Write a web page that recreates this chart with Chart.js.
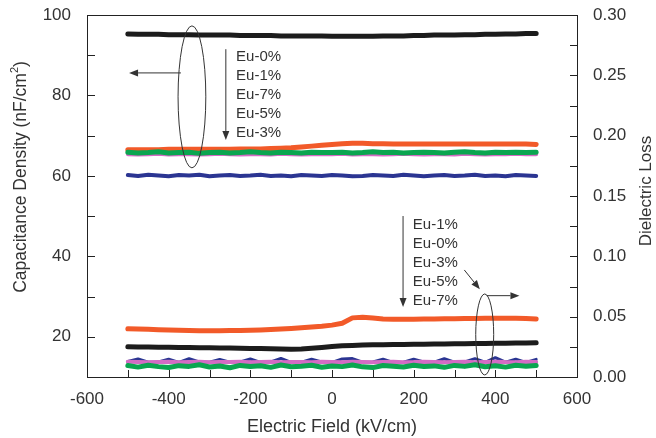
<!DOCTYPE html>
<html>
<head>
<meta charset="utf-8">
<script src="https://cdn.jsdelivr.net/npm/chart.js@4.4.0/dist/chart.umd.min.js"></script>
<style>
  body { margin: 0; background: #fff; }
  #wrap { width: 656px; height: 438px; }
</style>
</head>
<body>
<div id="wrap"><canvas id="c" width="656" height="438"></canvas></div>
<script>
// electric field (kV/cm) shared by every sweep
const field = [-500,-475,-450,-425,-400,-375,-350,-325,-300,-275,-250,-225,-200,-175,-150,-125,-100,-75,-50,-25,
  0,25,50,75,100,125,150,175,200,225,250,275,300,325,350,375,400,425,450,475,500];

// capacitance density (nF/cm2), left axis
const capEu0 = [95.3,95.2,95.2,95.2,95.1,95.1,95.1,95.0,95.0,95.0,95.0,94.9,94.9,94.9,94.9,94.8,94.8,94.8,94.8,94.8,
  94.7,94.7,94.7,94.7,94.7,94.8,94.8,94.8,94.9,94.9,95.0,95.0,95.0,95.1,95.1,95.2,95.2,95.3,95.3,95.4,95.4];
const capEu1 = [66.5,66.5,66.5,66.5,66.6,66.6,66.6,66.6,66.6,66.6,66.6,66.7,66.7,66.7,66.8,66.9,67.0,67.2,67.4,67.6,
  67.8,68.0,68.1,68.1,68.0,68.0,67.9,67.9,67.9,67.9,67.9,67.9,67.9,67.9,67.9,67.9,67.9,67.9,67.9,67.9,67.8];
const capEu7 = [65.9,65.7,65.8,66.0,65.7,65.8,65.9,65.6,65.8,65.9,65.7,65.8,66.0,65.8,65.7,65.9,65.8,65.7,65.9,65.8,
  65.8,65.9,65.7,65.8,66.0,65.8,65.9,65.7,65.8,65.9,65.8,65.7,65.9,66.0,65.8,65.7,65.9,65.8,65.9,65.8,65.9];
const capEu5 = [65.4,65.3,65.4,65.5,65.3,65.4,65.4,65.3,65.4,65.5,65.4,65.3,65.4,65.4,65.3,65.5,65.4,65.3,65.4,65.4,
  65.4,65.5,65.3,65.4,65.4,65.3,65.4,65.5,65.4,65.3,65.4,65.4,65.3,65.5,65.4,65.3,65.4,65.4,65.5,65.4,65.4];
const capEu3 = [60.2,60.0,60.3,60.1,59.9,60.2,60.1,60.3,59.9,60.1,60.2,60.0,60.1,60.3,60.0,60.1,59.9,60.2,60.1,60.0,
  60.2,60.1,59.9,60.0,60.2,60.1,60.0,60.3,60.1,59.9,60.1,60.2,60.0,60.1,60.3,60.0,60.1,59.9,60.2,60.1,60.0];

// dielectric loss, right axis
const lossEu1 = [0.0400,0.0398,0.0395,0.0392,0.0390,0.0387,0.0385,0.0384,0.0384,0.0384,0.0385,0.0386,0.0388,0.0390,0.0393,0.0397,0.0402,0.0408,0.0414,0.0421,
  0.0430,0.0445,0.0490,0.0495,0.0488,0.0480,0.0478,0.0478,0.0479,0.0480,0.0481,0.0482,0.0483,0.0484,0.0485,0.0486,0.0487,0.0487,0.0486,0.0484,0.0480];
const lossEu0 = [0.0250,0.0249,0.0248,0.0247,0.0246,0.0245,0.0244,0.0243,0.0242,0.0241,0.0240,0.0239,0.0237,0.0236,0.0234,0.0232,0.0230,0.0232,0.0238,0.0245,
  0.0252,0.0258,0.0262,0.0266,0.0268,0.0268,0.0269,0.0270,0.0271,0.0272,0.0273,0.0274,0.0275,0.0276,0.0277,0.0278,0.0279,0.0280,0.0281,0.0282,0.0283];
const lossEu3 = [0.0128,0.0150,0.0122,0.0125,0.0148,0.0121,0.0152,0.0124,0.0123,0.0146,0.0122,0.0125,0.0149,0.0121,0.0124,0.0154,0.0122,0.0123,0.0147,0.0125,
  0.0121,0.0150,0.0153,0.0122,0.0124,0.0148,0.0121,0.0123,0.0147,0.0125,0.0122,0.0151,0.0123,0.0124,0.0152,0.0122,0.0160,0.0123,0.0148,0.0121,0.0146];
const lossEu5 = [0.0126,0.0124,0.0122,0.0125,0.0127,0.0123,0.0124,0.0126,0.0122,0.0125,0.0124,0.0127,0.0123,0.0124,0.0126,0.0122,0.0125,0.0124,0.0123,0.0126,
  0.0125,0.0123,0.0127,0.0124,0.0122,0.0125,0.0126,0.0123,0.0124,0.0127,0.0125,0.0122,0.0124,0.0126,0.0123,0.0125,0.0127,0.0124,0.0123,0.0126,0.0125];
const lossEu7 = [0.0095,0.0082,0.0098,0.0086,0.0079,0.0094,0.0088,0.0101,0.0083,0.0091,0.0077,0.0096,0.0087,0.0093,0.0080,0.0099,0.0085,0.0090,0.0097,0.0081,
  0.0092,0.0086,0.0100,0.0084,0.0078,0.0095,0.0089,0.0083,0.0098,0.0087,0.0092,0.0080,0.0096,0.0088,0.0101,0.0085,0.0093,0.0082,0.0097,0.0090,0.0096];

// labelled ticks
const xTickLabels = [-600, -400, -200, 0, 200, 400, 600];
const capTickLabels = [20, 40, 60, 80, 100];
const lossTickLabels = [0, 0.05, 0.10, 0.15, 0.20, 0.25, 0.30];

// annotation text, top to bottom
const capOrder = ['Eu-0%', 'Eu-1%', 'Eu-7%', 'Eu-5%', 'Eu-3%'];
const lossOrder = ['Eu-1%', 'Eu-0%', 'Eu-3%', 'Eu-5%', 'Eu-7%'];

const colors = { eu0: '#1c1c1c', eu1: '#f25a29', eu7: '#0aa650', eu5: '#d36bc4', eu3: '#2b3592' };
const FONT = '"Liberation Sans", Arial, sans-serif';

const pts = arr => field.map((x, i) => ({ x: x, y: arr[i] }));
function series(label, arr, color, width, axis) {
  return { label: label, data: pts(arr), borderColor: color, backgroundColor: color, borderWidth: width,
    pointRadius: 0, tension: 0, yAxisID: axis, borderCapStyle: 'round', borderJoinStyle: 'round' };
}

function arrow(ctx, x1, y1, x2, y2) {
  const a = Math.atan2(y2 - y1, x2 - x1), len = 9, w = 3.5;
  ctx.beginPath();
  ctx.moveTo(x1, y1);
  ctx.lineTo(x2 - Math.cos(a) * len, y2 - Math.sin(a) * len);
  ctx.stroke();
  ctx.beginPath();
  ctx.moveTo(x2, y2);
  ctx.lineTo(x2 - Math.cos(a) * len - Math.sin(a) * w, y2 - Math.sin(a) * len + Math.cos(a) * w);
  ctx.lineTo(x2 - Math.cos(a) * len + Math.sin(a) * w, y2 - Math.sin(a) * len - Math.cos(a) * w);
  ctx.closePath();
  ctx.fill();
}

// inward ticks, top border, vertical axis titles and the arrow / ellipse notes
const frame = {
  id: 'frame',
  afterDatasetsDraw(chart) {
    const { ctx, chartArea: a, scales } = chart;
    const x = scales.x, y = scales.y, y2 = scales.y2;
    ctx.save();
    ctx.strokeStyle = '#222';
    ctx.lineWidth = 1;
    ctx.beginPath();
    ctx.moveTo(a.left, a.top + 0.5);
    ctx.lineTo(a.right, a.top + 0.5);
    x.ticks.forEach(t => {
      const p = Math.round(x.getPixelForValue(t.value)) + 0.5;
      ctx.moveTo(p, a.bottom); ctx.lineTo(p, a.bottom - 7);
    });
    y.ticks.forEach(t => {
      const p = Math.round(y.getPixelForValue(t.value)) + 0.5;
      ctx.moveTo(a.left, p); ctx.lineTo(a.left + 8, p);
    });
    y2.ticks.forEach(t => {
      const p = Math.round(y2.getPixelForValue(t.value)) + 0.5;
      ctx.moveTo(a.right, p); ctx.lineTo(a.right - 7, p);
    });
    ctx.stroke();

    ctx.fillStyle = '#333';
    // left title with a real superscript, read bottom to top
    ctx.save();
    ctx.translate(21, a.top + 162);
    ctx.rotate(-Math.PI / 2);
    ctx.textBaseline = 'middle';
    ctx.textAlign = 'left';
    const mainTxt = 'Capacitance Density (nF/cm', big = '17.5px ' + FONT, small = '11px ' + FONT;
    ctx.font = big;
    const w1 = ctx.measureText(mainTxt).width, w3 = ctx.measureText(')').width;
    ctx.font = small;
    const w2 = ctx.measureText('2').width;
    let sx = -(w1 + w2 + w3) / 2;
    ctx.font = big; ctx.fillText(mainTxt, sx, 0); sx += w1;
    ctx.font = small; ctx.fillText('2', sx, -6); sx += w2;
    ctx.font = big; ctx.fillText(')', sx, 0);
    ctx.restore();

    // right title, also read bottom to top
    ctx.save();
    ctx.translate(646, a.top + 176);
    ctx.rotate(-Math.PI / 2);
    ctx.textBaseline = 'middle';
    ctx.textAlign = 'center';
    ctx.font = '17px ' + FONT;
    ctx.fillText('Dielectric Loss', 0, 0);
    ctx.restore();

    ctx.strokeStyle = '#333';
    ctx.lineWidth = 1;

    // capacitance group
    let ex1 = x.getPixelForValue(-377), ex2 = x.getPixelForValue(-309);
    let ey1 = y.getPixelForValue(97.3), ey2 = y.getPixelForValue(62.0);
    ctx.beginPath();
    ctx.ellipse((ex1 + ex2) / 2, (ey1 + ey2) / 2, (ex2 - ex1) / 2, (ey2 - ey1) / 2, 0, 0, Math.PI * 2);
    ctx.stroke();
    arrow(ctx, x.getPixelForValue(-370), y.getPixelForValue(85.6), x.getPixelForValue(-497), y.getPixelForValue(85.6));
    arrow(ctx, x.getPixelForValue(-260), y.getPixelForValue(91.5), x.getPixelForValue(-260), y.getPixelForValue(68.9));

    ctx.font = '15px ' + FONT;
    ctx.textBaseline = 'middle';
    ctx.textAlign = 'left';
    let tx = x.getPixelForValue(-235), ty = y.getPixelForValue(89.6);
    capOrder.forEach((s, i) => ctx.fillText(s, tx, ty + i * 19));

    // loss group
    ex1 = x.getPixelForValue(352); ex2 = x.getPixelForValue(396);
    ey1 = y2.getPixelForValue(0.0688); ey2 = y2.getPixelForValue(0.0017);
    ctx.beginPath();
    ctx.ellipse((ex1 + ex2) / 2, (ey1 + ey2) / 2, (ex2 - ex1) / 2, (ey2 - ey1) / 2, 0, 0, Math.PI * 2);
    ctx.stroke();
    arrow(ctx, x.getPixelForValue(379), y2.getPixelForValue(0.0674), x.getPixelForValue(459), y2.getPixelForValue(0.0674));
    arrow(ctx, x.getPixelForValue(324), y2.getPixelForValue(0.0887), x.getPixelForValue(362), y2.getPixelForValue(0.0727));
    arrow(ctx, x.getPixelForValue(174), y2.getPixelForValue(0.1334), x.getPixelForValue(174), y2.getPixelForValue(0.058));
    tx = x.getPixelForValue(198); ty = y2.getPixelForValue(0.126);
    lossOrder.forEach((s, i) => ctx.fillText(s, tx, ty + i * 19));
    ctx.restore();
  }
};

Chart.defaults.font.family = FONT;
Chart.defaults.color = '#333';

const tickFont = { size: 17 };
// fixed axis boxes so the plot area lands where the original has it
const fixVertical = w => s => { s.width = w; s.paddingTop = 15; s.paddingBottom = 0; };

new Chart(document.getElementById('c'), {
  type: 'line',
  data: {
    datasets: [
      series('Eu-7% loss', lossEu7, colors.eu7, 5, 'y2'),
      series('Eu-5% loss', lossEu5, colors.eu5, 4, 'y2'),
      series('Eu-3% loss', lossEu3, colors.eu3, 3, 'y2'),
      series('Eu-0% loss', lossEu0, colors.eu0, 5, 'y2'),
      series('Eu-1% loss', lossEu1, colors.eu1, 5, 'y2'),
      series('Eu-7%', capEu7, colors.eu7, 5, 'y'),
      series('Eu-5%', capEu5, colors.eu5, 4, 'y'),
      series('Eu-1%', capEu1, colors.eu1, 5, 'y'),
      series('Eu-3%', capEu3, colors.eu3, 4, 'y'),
      series('Eu-0%', capEu0, colors.eu0, 5, 'y')
    ]
  },
  options: {
    responsive: false,
    animation: false,
    layout: { padding: 0 },
    plugins: { legend: { display: false }, tooltip: { enabled: false } },
    scales: {
      x: {
        type: 'linear', min: -600, max: 600,
        grid: { display: false, drawTicks: false },
        border: { display: true, color: '#222', width: 1 },
        ticks: { stepSize: 100, autoSkip: false, maxRotation: 0, padding: 12, font: tickFont,
          callback: v => xTickLabels.includes(v) ? String(v) : '' },
        title: { display: true, text: 'Electric Field (kV/cm)', font: { size: 18, lineHeight: 1 }, padding: { top: 0, bottom: 2 } },
        afterFit: s => { s.height = 61; }
      },
      y: {
        type: 'linear', position: 'left', min: 10, max: 100,
        grid: { display: false, drawTicks: false },
        border: { display: true, color: '#222', width: 1 },
        ticks: { stepSize: 10, autoSkip: false, padding: 16, font: tickFont,
          callback: v => capTickLabels.includes(v) ? String(v) : '' },
        afterFit: fixVertical(87)
      },
      y2: {
        type: 'linear', position: 'right', min: 0, max: 0.3,
        grid: { display: false, drawTicks: false },
        border: { display: true, color: '#222', width: 1 },
        ticks: { stepSize: 0.025, autoSkip: false, padding: 16, font: tickFont,
          callback: v => lossTickLabels.some(t => Math.abs(t - v) < 1e-6) ? v.toFixed(2) : '' },
        afterFit: fixVertical(79)
      }
    }
  },
  plugins: [frame]
});
</script>
</body>
</html>
